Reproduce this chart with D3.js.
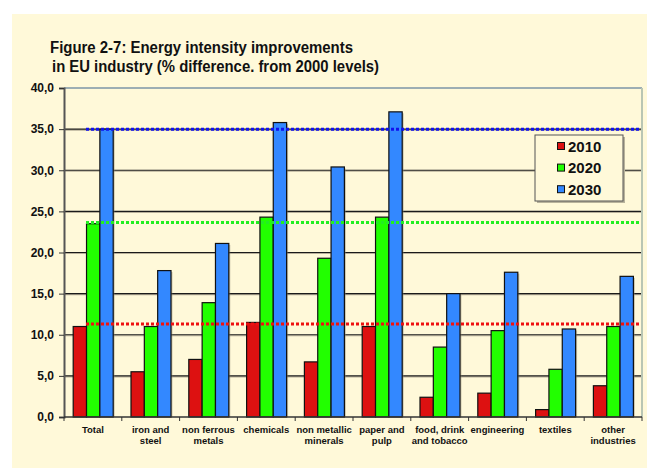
<!DOCTYPE html>
<html><head><meta charset="utf-8">
<script src="https://cdn.jsdelivr.net/npm/d3@7"></script>
<style>body{margin:0;background:#fff}svg{display:block}</style>
</head><body><svg id="c" width="647" height="468"></svg>
<script>
const categories = [["Total"],["iron and","steel"],["non ferrous","metals"],["chemicals"],["non metallic","minerals"],["paper and","pulp"],["food, drink","and tobacco"],["engineering"],["textiles"],["other","industries"]];
const series = ["2010","2020","2030"];
const v2010 = [11.0,5.5,7.0,11.5,6.7,11.0,2.4,2.9,0.9,3.8];
const v2020 = [23.5,11.0,13.9,24.3,19.3,24.3,8.5,10.5,5.8,11.0];
const v2030 = [35.0,17.8,21.1,35.8,30.4,37.1,15.0,17.6,10.7,17.1];
const refLines = [11.3,23.65,35.0];
const yTicks = [0,5,10,15,20,25,30,35,40];
const colors = ["#DD1111","#22FF00","#3388FF"];
const refColors = ["#EE1111","#22EE22","#1111EE"];

const svg = d3.select("#c");
svg.append("rect").attr("x",12).attr("y",14).attr("width",635).attr("height",454).attr("fill","#FFF9D9");

const L=64,R=642,T=88,B=417;
const x0 = d3.scaleBand().domain(d3.range(categories.length)).range([L,R]).padding(0);
const x1 = d3.scaleBand().domain(series).range([9.2, x0.bandwidth()-8.6]).padding(0);
const y = d3.scaleLinear().domain([0,40]).range([B,T]);

// title
const title = svg.append("g").attr("font-family","'Liberation Sans',Arial,sans-serif").attr("font-weight","bold").attr("font-size",16).attr("fill","#111");
title.append("text").attr("x",50).attr("y",53).attr("textLength",303).attr("lengthAdjust","spacingAndGlyphs").text("Figure 2-7: Energy intensity improvements");
title.append("text").attr("x",52).attr("y",72).attr("textLength",327).attr("lengthAdjust","spacingAndGlyphs").text("in EU industry (% difference. from 2000 levels)");

// gridlines
svg.append("g").selectAll("line").data(yTicks.filter(d=>d>0&&d<40)).join("line")
  .attr("x1",L).attr("x2",R).attr("y1",d=>y(d)+1).attr("y2",d=>y(d)+1).attr("stroke","#b8b09a").attr("stroke-width",1.2);
svg.append("g").selectAll("line").data(yTicks.filter(d=>d>0&&d<40)).join("line")
  .attr("x1",L).attr("x2",R).attr("y1",d=>y(d)).attr("y2",d=>y(d)).attr("stroke","#1a1a1a").attr("stroke-width",1.2);
// plot border top/right
svg.append("line").attr("x1",L).attr("x2",R).attr("y1",T).attr("y2",T).attr("stroke","#7C95A6").attr("stroke-width",1.5);
svg.append("line").attr("x1",R).attr("x2",R).attr("y1",T).attr("y2",B).attr("stroke","#B9C6B4").attr("stroke-width",2);

// bars
const data = [v2010,v2020,v2030];
const g = svg.append("g");
categories.forEach((c,i)=>{
  series.forEach((s,j)=>{
    const val = data[j][i];
    g.append("rect").attr("x",x0(i)+x1(s)+1.5).attr("y",y(val)+1.5).attr("width",x1.bandwidth()).attr("height",B-y(val)-1.5)
      .attr("fill","#8a8470").attr("opacity",0.45);
  });
});
categories.forEach((c,i)=>{
  series.forEach((s,j)=>{
    const val = data[j][i];
    g.append("rect").attr("x",x0(i)+x1(s)).attr("y",y(val)).attr("width",x1.bandwidth()).attr("height",B-y(val))
      .attr("fill",colors[j]).attr("stroke","#111").attr("stroke-width",1.2);
  });
});

// reference dotted lines
svg.append("g").selectAll("line").data(refLines).join("line")
  .attr("x1",86).attr("x2",640).attr("y1",d=>y(d)).attr("y2",d=>y(d))
  .attr("stroke",(d,i)=>refColors[i]).attr("stroke-width",3).attr("stroke-dasharray","3,2");

// y axis
const ya = svg.append("g").attr("transform",`translate(${L},0)`)
  .call(d3.axisLeft(y).tickValues(yTicks).tickSize(5).tickPadding(5).tickFormat(d=>d3.format(".1f")(d).replace(".",",")));
ya.select(".domain").attr("stroke","#555").attr("stroke-width",2);
ya.selectAll(".tick line").attr("stroke","#333");
ya.selectAll("text").attr("font-family","'Liberation Sans',Arial,sans-serif").attr("font-weight","bold").attr("font-size",12).attr("fill","#111");

// x axis
const xa = svg.append("g").attr("transform",`translate(0,${B})`);
xa.append("line").attr("x1",L).attr("x2",R).attr("y1",0).attr("y2",0).attr("stroke","#333").attr("stroke-width",1.5);
xa.selectAll("line.t").data(d3.range(categories.length+1)).join("line").attr("class","t")
  .attr("x1",d=>L+d*x0.step()).attr("x2",d=>L+d*x0.step()).attr("y1",0).attr("y2",4).attr("stroke","#333");
categories.forEach((c,i)=>{
  const t = xa.append("text").attr("text-anchor","middle").attr("font-family","'Liberation Sans',Arial,sans-serif")
    .attr("font-weight","bold").attr("font-size",9.5).attr("fill","#111");
  c.forEach((ln,k)=>t.append("tspan").attr("x",x0(i)+x0.bandwidth()/2).attr("y",16+k*10.5).text(ln));
});

// legend
const lg = svg.append("g");
lg.append("rect").attr("x",537).attr("y",137).attr("width",88).attr("height",66).attr("fill","#b8b39c");
lg.append("rect").attr("x",535).attr("y",135).attr("width",88).attr("height",66).attr("fill","#FFF9D9").attr("stroke","#555").attr("stroke-width",1);
series.forEach((s,j)=>{
  const cy = 146+j*21.6;
  lg.append("rect").attr("x",557.5).attr("y",cy-3.5).attr("width",7).attr("height",7).attr("fill",colors[j]).attr("stroke","#111").attr("stroke-width",1);
  lg.append("text").attr("x",568).attr("y",cy+5.5).attr("font-family","'Liberation Sans',Arial,sans-serif").attr("font-weight","bold").attr("font-size",15).attr("fill","#111").text(s);
});
</script></body></html>
